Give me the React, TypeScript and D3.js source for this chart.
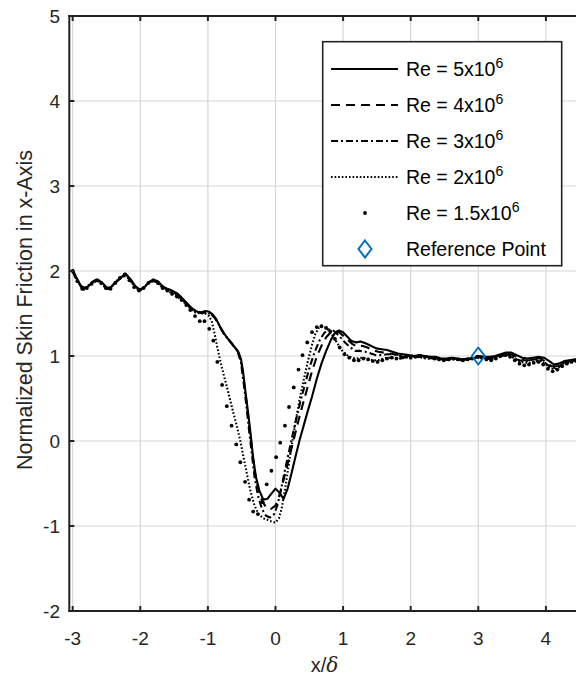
import React from 'react';
import * as d3 from 'd3';

type P = [number, number];

const xTicks = [-3, -2, -1, 0, 1, 2, 3, 4];
const yTicks = [-2, -1, 0, 1, 2, 3, 4, 5];

const legendLabels = ['5', '4', '3', '2', '1.5'];

const re5: P[] = [
  [-3.00,2.02],[-2.95,1.93],[-2.89,1.84],[-2.83,1.79],[-2.77,1.82],[-2.70,1.87],[-2.63,1.90],[-2.56,1.86],[-2.49,1.80],[-2.43,1.81],
  [-2.36,1.87],[-2.29,1.92],[-2.22,1.97],[-2.15,1.91],[-2.08,1.83],[-2.01,1.78],[-1.95,1.80],[-1.88,1.86],[-1.81,1.90],[-1.74,1.88],
  [-1.67,1.82],[-1.60,1.79],[-1.53,1.77],[-1.46,1.74],[-1.39,1.69],[-1.32,1.63],[-1.25,1.57],[-1.18,1.53],[-1.11,1.51],[-1.04,1.53],
  [-0.98,1.52],[-0.93,1.49],[-0.88,1.44],[-0.83,1.36],[-0.78,1.29],[-0.72,1.22],[-0.66,1.16],[-0.60,1.10],[-0.55,1.05],[-0.51,0.96],
  [-0.48,0.82],[-0.46,0.68],[-0.43,0.49],[-0.40,0.30],[-0.37,0.10],[-0.33,-0.20],[-0.29,-0.42],[-0.24,-0.58],[-0.18,-0.69],[-0.12,-0.68],
  [-0.06,-0.62],[0.00,-0.56],[0.06,-0.61],[0.12,-0.68],[0.18,-0.56],[0.24,-0.37],[0.30,-0.17],[0.36,0.02],[0.42,0.19],[0.48,0.36],
  [0.54,0.52],[0.61,0.73],[0.68,0.91],[0.75,1.06],[0.82,1.19],[0.88,1.27],[0.94,1.30],[1.00,1.28],[1.06,1.23],[1.12,1.18],
  [1.19,1.16],[1.26,1.17],[1.33,1.15],[1.41,1.12],[1.49,1.09],[1.57,1.08],[1.65,1.07],[1.73,1.05],[1.81,1.03],[1.89,1.02],
  [1.97,1.01],[2.05,1.00],[2.13,1.01],[2.21,1.00],[2.29,0.99],[2.37,0.99],[2.45,0.97],[2.53,0.97],[2.61,0.98],[2.69,0.97],
  [2.77,0.96],[2.85,0.97],[2.93,0.97],[3.01,1.00],[3.09,0.99],[3.17,0.99],[3.25,1.00],[3.33,1.02],[3.41,1.04],[3.49,1.04],
  [3.57,1.01],[3.65,0.98],[3.73,0.97],[3.81,0.98],[3.89,0.99],[3.97,0.98],[4.05,0.94],[4.12,0.90],[4.19,0.91],[4.27,0.94],
  [4.35,0.95],[4.43,0.96],[4.50,0.96],
];

const re4: P[] = [
  [-3.00,2.00],[-2.94,1.90],[-2.88,1.82],[-2.82,1.80],[-2.76,1.84],[-2.69,1.88],[-2.62,1.89],[-2.55,1.84],[-2.48,1.79],[-2.42,1.82],
  [-2.35,1.88],[-2.28,1.93],[-2.21,1.95],[-2.14,1.89],[-2.07,1.81],[-2.00,1.78],[-1.94,1.81],[-1.87,1.87],[-1.80,1.89],[-1.73,1.86],
  [-1.66,1.81],[-1.59,1.78],[-1.52,1.76],[-1.45,1.72],[-1.38,1.67],[-1.31,1.61],[-1.24,1.56],[-1.17,1.52],[-1.10,1.51],[-1.03,1.52],
  [-0.97,1.50],[-0.92,1.47],[-0.87,1.42],[-0.82,1.34],[-0.77,1.27],[-0.71,1.21],[-0.65,1.15],[-0.60,1.09],[-0.55,1.04],[-0.51,0.94],
  [-0.48,0.78],[-0.45,0.60],[-0.42,0.40],[-0.39,0.18],[-0.35,-0.08],[-0.31,-0.35],[-0.26,-0.55],[-0.20,-0.70],[-0.14,-0.78],[-0.07,-0.80],
  [0.00,-0.76],[0.05,-0.66],[0.10,-0.52],[0.16,-0.33],[0.22,-0.14],[0.28,0.05],[0.34,0.24],[0.40,0.42],[0.47,0.62],[0.54,0.82],
  [0.61,0.99],[0.68,1.12],[0.75,1.22],[0.82,1.28],[0.88,1.30],[0.94,1.28],[1.00,1.24],[1.07,1.19],[1.14,1.14],[1.21,1.11],
  [1.28,1.12],[1.36,1.10],[1.44,1.07],[1.52,1.05],[1.60,1.04],[1.68,1.03],[1.76,1.02],[1.84,1.01],[1.92,1.00],[2.00,1.00],
  [2.08,1.01],[2.16,1.00],[2.24,0.99],[2.32,0.98],[2.40,0.97],[2.48,0.96],[2.56,0.97],[2.64,0.97],[2.72,0.96],[2.80,0.96],
  [2.88,0.97],[2.96,0.98],[3.04,0.99],[3.12,0.98],[3.20,0.98],[3.28,1.00],[3.36,1.02],[3.44,1.03],[3.52,1.01],[3.60,0.97],
  [3.68,0.95],[3.76,0.95],[3.84,0.97],[3.92,0.97],[4.00,0.93],[4.08,0.88],[4.16,0.88],[4.24,0.92],[4.32,0.94],[4.40,0.95],
  [4.50,0.96],
];

const re3: P[] = [
  [-3.00,1.99],[-2.94,1.89],[-2.87,1.81],[-2.81,1.80],[-2.74,1.85],[-2.67,1.89],[-2.60,1.87],[-2.53,1.82],[-2.47,1.79],[-2.40,1.84],
  [-2.33,1.89],[-2.26,1.94],[-2.20,1.94],[-2.13,1.87],[-2.06,1.80],[-1.99,1.78],[-1.92,1.83],[-1.85,1.88],[-1.78,1.88],[-1.71,1.84],
  [-1.64,1.80],[-1.57,1.77],[-1.50,1.74],[-1.43,1.70],[-1.36,1.65],[-1.29,1.59],[-1.22,1.54],[-1.15,1.51],[-1.08,1.51],[-1.01,1.51],
  [-0.95,1.49],[-0.90,1.45],[-0.85,1.39],[-0.80,1.31],[-0.75,1.25],[-0.69,1.19],[-0.63,1.13],[-0.58,1.08],[-0.55,1.03],[-0.51,0.92],
  [-0.48,0.74],[-0.45,0.55],[-0.42,0.34],[-0.39,0.12],[-0.35,-0.15],[-0.31,-0.42],[-0.26,-0.64],[-0.20,-0.80],[-0.14,-0.88],[-0.08,-0.90],
  [-0.02,-0.86],[0.03,-0.75],[0.08,-0.58],[0.13,-0.38],[0.19,-0.16],[0.25,0.06],[0.31,0.27],[0.37,0.47],[0.44,0.68],[0.51,0.88],
  [0.58,1.05],[0.65,1.18],[0.72,1.27],[0.78,1.31],[0.84,1.31],[0.90,1.27],[0.97,1.21],[1.04,1.15],[1.11,1.10],[1.18,1.06],
  [1.25,1.06],[1.33,1.05],[1.41,1.03],[1.49,1.01],[1.57,1.01],[1.65,1.02],[1.73,1.02],[1.81,1.01],[1.89,0.99],[1.97,0.99],
  [2.05,1.00],[2.13,0.99],[2.21,0.98],[2.29,0.98],[2.37,0.97],[2.45,0.96],[2.53,0.96],[2.61,0.97],[2.69,0.96],[2.77,0.95],
  [2.85,0.96],[2.93,0.97],[3.01,0.99],[3.09,0.98],[3.17,0.97],[3.25,0.99],[3.33,1.01],[3.41,1.02],[3.49,1.00],[3.57,0.96],
  [3.65,0.94],[3.73,0.94],[3.81,0.96],[3.89,0.96],[3.97,0.93],[4.05,0.88],[4.13,0.86],[4.21,0.89],[4.29,0.93],[4.37,0.94],
  [4.50,0.95],
];

const re2: P[] = [
  [-3.00,2.01],[-2.95,1.91],[-2.89,1.83],[-2.83,1.78],[-2.76,1.83],[-2.69,1.87],[-2.62,1.88],[-2.55,1.83],[-2.48,1.78],[-2.41,1.83],
  [-2.34,1.89],[-2.27,1.93],[-2.21,1.95],[-2.14,1.88],[-2.07,1.80],[-2.00,1.77],[-1.93,1.82],[-1.86,1.87],[-1.79,1.88],[-1.72,1.84],
  [-1.65,1.79],[-1.58,1.76],[-1.51,1.73],[-1.44,1.69],[-1.38,1.65],[-1.32,1.61],[-1.25,1.55],[-1.18,1.51],[-1.11,1.50],[-1.04,1.50],
  [-0.98,1.47],[-0.94,1.40],[-0.90,1.26],[-0.86,1.10],[-0.81,0.92],[-0.76,0.76],[-0.72,0.64],[-0.67,0.48],[-0.62,0.32],[-0.57,0.17],
  [-0.52,0.00],[-0.47,-0.20],[-0.42,-0.40],[-0.37,-0.59],[-0.31,-0.76],[-0.25,-0.86],[-0.18,-0.91],[-0.11,-0.93],[-0.05,-0.95],[0.00,-0.96],
  [0.05,-0.91],[0.09,-0.80],[0.13,-0.62],[0.17,-0.42],[0.21,-0.20],[0.25,0.00],[0.30,0.24],[0.36,0.50],[0.42,0.73],[0.48,0.94],
  [0.54,1.13],[0.59,1.26],[0.64,1.33],[0.69,1.35],[0.75,1.33],[0.81,1.28],[0.87,1.21],[0.93,1.13],[0.99,1.06],[1.06,1.01],
  [1.13,0.98],[1.20,0.97],[1.28,0.98],[1.36,0.97],[1.44,0.95],[1.52,0.95],[1.60,0.97],[1.68,0.98],[1.76,0.98],[1.84,0.97],
  [1.92,0.98],[2.00,0.99],[2.08,0.99],[2.16,0.98],[2.24,0.97],[2.32,0.97],[2.40,0.96],[2.48,0.95],[2.56,0.96],[2.64,0.96],
  [2.72,0.95],[2.80,0.95],[2.88,0.96],[2.96,0.98],[3.04,0.98],[3.12,0.97],[3.20,0.96],[3.28,0.98],[3.36,1.00],[3.44,1.01],
  [3.52,0.98],[3.60,0.94],[3.68,0.92],[3.76,0.92],[3.84,0.94],[3.92,0.94],[4.00,0.90],[4.08,0.85],[4.16,0.85],[4.24,0.89],
  [4.32,0.92],[4.40,0.94],[4.50,0.95],
];

const re15: P[] = [
  [-3.00,2.00],[-2.93,1.88],[-2.86,1.79],[-2.79,1.80],[-2.72,1.85],[-2.65,1.89],[-2.58,1.86],[-2.51,1.80],[-2.44,1.79],[-2.37,1.86],
  [-2.30,1.92],[-2.23,1.96],[-2.16,1.89],[-2.09,1.81],[-2.02,1.77],[-1.95,1.80],[-1.88,1.86],[-1.81,1.89],[-1.74,1.86],[-1.67,1.80],
  [-1.60,1.77],[-1.53,1.73],[-1.46,1.70],[-1.39,1.66],[-1.32,1.60],[-1.26,1.54],[-1.19,1.47],[-1.12,1.41],[-1.05,1.41],[-0.98,1.32],
  [-0.92,1.18],[-0.86,0.93],[-0.79,0.66],[-0.72,0.41],[-0.65,0.18],[-0.58,-0.04],[-0.52,-0.25],[-0.45,-0.48],[-0.39,-0.69],[-0.33,-0.83],
  [-0.26,-0.86],[-0.19,-0.72],[-0.13,-0.51],[-0.06,-0.35],[0.01,-0.19],[0.07,-0.02],[0.14,0.18],[0.20,0.40],[0.27,0.63],[0.34,0.84],
  [0.40,1.01],[0.47,1.16],[0.54,1.28],[0.61,1.34],[0.68,1.35],[0.75,1.33],[0.81,1.29],[0.88,1.20],[0.95,1.10],[1.02,1.02],
  [1.09,0.98],[1.16,0.95],[1.23,0.95],[1.30,0.97],[1.37,0.96],[1.44,0.94],[1.51,0.93],[1.58,0.95],[1.65,0.97],[1.72,0.98],
  [1.79,0.97],[1.86,0.98],[1.93,0.99],[2.00,0.98],[2.07,0.99],[2.14,1.00],[2.21,0.99],[2.28,0.98],[2.35,0.97],[2.42,0.96],
  [2.49,0.95],[2.56,0.96],[2.63,0.97],[2.70,0.96],[2.77,0.95],[2.84,0.96],[2.91,0.97],[2.98,0.99],[3.05,0.98],[3.12,0.96],
  [3.19,0.95],[3.26,0.97],[3.33,1.00],[3.40,1.01],[3.47,0.99],[3.54,0.95],[3.61,0.91],[3.68,0.89],[3.75,0.90],[3.82,0.92],
  [3.89,0.93],[3.96,0.90],[4.03,0.85],[4.10,0.82],[4.17,0.84],[4.24,0.88],[4.31,0.91],[4.38,0.93],[4.45,0.94],[4.52,0.95],
];

const refPoint: P = [3.0, 1.0];

const FONT = '"Liberation Sans", Arial, Helvetica, sans-serif';

const lineSeries = [
  { data: re5, dash: 'none' },
  { data: re4, dash: '9,6' },
  { data: re3, dash: '7,3,2,3' },
  { data: re2, dash: '1.6,2' },
];

export default function App() {
  const x = d3.scaleLinear().domain([-3.05, 4.5]).range([69.3, 579.7]);
  const y = d3.scaleLinear().domain([-2, 5]).range([611, 16]);
  const line = d3.line<P>().x(d => x(d[0])).y(d => y(d[1]));
  const [x0, x1] = x.range();
  const [yb, yt] = y.range();

  const legendRowsY = [69, 105, 141, 177, 213, 249];
  const legendStyles = ['none', '9,6', '7,3,2,3', '1.6,2'];

  return (
    <svg width={576} height={681} style={{ position: 'absolute', left: 0, top: 0, background: '#fff' }} fontFamily={FONT}>
      <defs>
        <clipPath id="plotClip">
          <rect x={x0} y={yt} width={x1 - x0} height={yb - yt} />
        </clipPath>
      </defs>
      <rect x={0} y={0} width={576} height={681} fill="#fff" />
      {/* grid */}
      <g stroke="#d6d6d6" strokeWidth={1.2}>
        {xTicks.map(t => <line key={'gx' + t} x1={x(t)} x2={x(t)} y1={yt} y2={yb} />)}
        {yTicks.map(t => <line key={'gy' + t} x1={x0} x2={x1} y1={y(t)} y2={y(t)} />)}
      </g>
      {/* data */}
      <g clipPath="url(#plotClip)" fill="none" stroke="#000" strokeWidth={2.1} strokeLinejoin="round">
        {lineSeries.map((s, i) => (
          <path key={i} d={line(s.data) || ''} strokeDasharray={s.dash === 'none' ? undefined : s.dash} />
        ))}
        {re15.map((d, i) => (
          <circle key={'d' + i} cx={x(d[0])} cy={y(d[1])} r={1.9} fill="#000" stroke="none" />
        ))}
        <path
          d={`M${x(refPoint[0])},${y(refPoint[1]) - 8.5} L${x(refPoint[0]) + 6.5},${y(refPoint[1])} L${x(refPoint[0])},${y(refPoint[1]) + 8.5} L${x(refPoint[0]) - 6.5},${y(refPoint[1])} Z`}
          fill="none" stroke="#0072BD" strokeWidth={2} />
      </g>
      {/* axes */}
      <g stroke="#222" strokeWidth={2} fill="none">
        <line x1={x0} x2={x0} y1={yt - 1} y2={yb + 1} />
        <line x1={x0 - 1} x2={x1} y1={yb} y2={yb} />
        <line x1={x0 - 1} x2={x1} y1={yt} y2={yt} />
        <line x1={x1} x2={x1} y1={yt} y2={yb} />
        {xTicks.map(t => <line key={'tb' + t} x1={x(t)} x2={x(t)} y1={yb} y2={yb - 5} />)}
        {xTicks.map(t => <line key={'tt' + t} x1={x(t)} x2={x(t)} y1={yt} y2={yt + 5} />)}
        {yTicks.map(t => <line key={'tl' + t} x1={x0} x2={x0 + 5} y1={y(t)} y2={y(t)} />)}
      </g>
      {/* tick labels */}
      <g fontSize={19} fill="#262626">
        {xTicks.map(t => (
          <text key={'lx' + t} x={x(t)} y={645} textAnchor="middle">{t}</text>
        ))}
        {yTicks.map(t => (
          <text key={'ly' + t} x={60} y={y(t) + 7} textAnchor="end">{t}</text>
        ))}
      </g>
      <text x={(x0 + x1) / 2} y={672} textAnchor="middle" fontSize={20} fill="#262626">
        x/<tspan fontStyle="italic" fontFamily='"DejaVu Serif", serif'>δ</tspan>
      </text>
      <text transform={`translate(32, 310) rotate(-90)`} textAnchor="middle" fontSize={21.5} fill="#262626">
        Normalized Skin Friction in x-Axis
      </text>
      {/* legend */}
      <g>
        <rect x={322.7} y={41.7} width={239} height={224} fill="#fff" stroke="#222" strokeWidth={1.6} />
        {legendStyles.map((dash, i) => (
          <line key={'ll' + i} x1={331} x2={398} y1={legendRowsY[i]} y2={legendRowsY[i]} stroke="#000" strokeWidth={2}
            strokeDasharray={dash === 'none' ? undefined : dash} />
        ))}
        <circle cx={365} cy={legendRowsY[4]} r={1.9} fill="#000" />
        <path d={`M365,${legendRowsY[5] - 8.5} L371.5,${legendRowsY[5]} L365,${legendRowsY[5] + 8.5} L358.5,${legendRowsY[5]} Z`}
          fill="none" stroke="#0072BD" strokeWidth={2} />
        {legendLabels.map((lab, i) => (
          <text key={'lt' + i} x={406} y={legendRowsY[i] + 7} fontSize={19.5} fill="#000">
            Re = {lab}x10<tspan dy={-8} fontSize={14}>6</tspan>
          </text>
        ))}
        <text x={406} y={legendRowsY[5] + 7} fontSize={19.5} fill="#000">Reference Point</text>
      </g>
    </svg>
  );
}
